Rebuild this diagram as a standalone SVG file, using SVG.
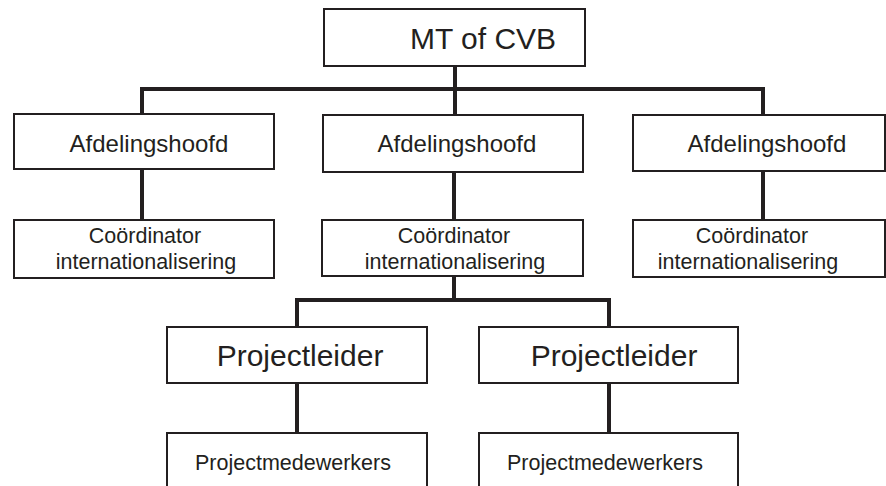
<svg xmlns="http://www.w3.org/2000/svg" width="886" height="486" viewBox="0 0 886 486">
<style>
.box{fill:#fff;stroke:#231f20;stroke-width:2}
.t{font-family:"Liberation Sans",Arial,sans-serif;fill:#231f20;text-anchor:middle}
.con{fill:none;stroke:#231f20;stroke-width:4;stroke-linecap:square}
</style>
<rect width="886" height="486" fill="#fff"/>
<g id="connectors" class="con">
<path d="M455,67 V89 M142,89 H763 M142,89 V114 M455,89 V115 M763,89 V115"/>
<path d="M142,170 V220 M454,172 V220 M763,171 V220"/>
<path d="M454,277 V300 M297,300 H609 M297,300 V327 M609,300 V327"/>
<path d="M297,384 V433 M609,384 V433"/>
</g>
<g id="mt">
<rect class="box" x="324" y="9" width="261" height="57"/>
<text class="t" x="483" y="49" font-size="30">MT of CVB</text>
</g>
<g id="afd1">
<rect class="box" x="14" y="114" width="260" height="55"/>
<text class="t" x="149" y="152" font-size="24">Afdelingshoofd</text>
</g>
<g id="afd2">
<rect class="box" x="323" y="115" width="260" height="57"/>
<text class="t" x="457" y="152" font-size="24">Afdelingshoofd</text>
</g>
<g id="afd3">
<rect class="box" x="633" y="115" width="252" height="56"/>
<text class="t" x="767" y="152" font-size="24">Afdelingshoofd</text>
</g>
<g id="coord1">
<rect class="box" x="14" y="220" width="260" height="58"/>
<text class="t" x="145" y="243" font-size="21.5">Coördinator</text>
<text class="t" x="146" y="269" font-size="21.5">internationalisering</text>
</g>
<g id="coord2">
<rect class="box" x="322" y="220" width="261" height="56"/>
<text class="t" x="454" y="243" font-size="21.5">Coördinator</text>
<text class="t" x="455" y="269" font-size="21.5">internationalisering</text>
</g>
<g id="coord3">
<rect class="box" x="633" y="220" width="252" height="57"/>
<text class="t" x="752" y="243" font-size="21.5">Coördinator</text>
<text class="t" x="748" y="269" font-size="21.5">internationalisering</text>
</g>
<g id="pl1">
<rect class="box" x="167" y="327" width="260" height="56"/>
<text class="t" x="300" y="366" font-size="30">Projectleider</text>
</g>
<g id="pl2">
<rect class="box" x="479" y="327" width="259" height="56"/>
<text class="t" x="614" y="366" font-size="30">Projectleider</text>
</g>
<g id="pm1">
<rect class="box" x="167" y="433" width="260" height="60"/>
<text class="t" x="293" y="470" font-size="21.5">Projectmedewerkers</text>
</g>
<g id="pm2">
<rect class="box" x="479" y="433" width="259" height="60"/>
<text class="t" x="605" y="470" font-size="21.5">Projectmedewerkers</text>
</g>
</svg>
